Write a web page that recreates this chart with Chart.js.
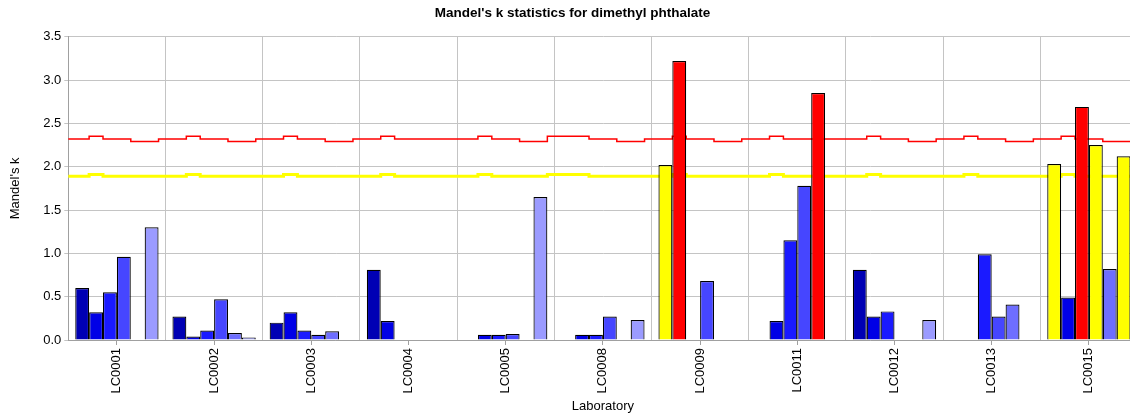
<!DOCTYPE html>
<html>
<head>
<meta charset="utf-8">
<script src="https://cdn.jsdelivr.net/npm/chart.js@4.4.1/dist/chart.umd.min.js"></script>
<style>
  html, body { margin: 0; padding: 0; background: #fff; overflow: hidden; }
  #wrap { width: 1145px; height: 414px; }
</style>
</head>
<body>
<div id="wrap"><canvas id="myChart"></canvas></div>
<script>
var labs = ['LC0001', 'LC0002', 'LC0003', 'LC0004', 'LC0005', 'LC0008', 'LC0009', 'LC0011', 'LC0012', 'LC0013', 'LC0015']

// Mandel's k per lab, one array per level (null = no result)
var level1 = [0.60, 0.27, 0.20, 0.81, null, null, 2.02, null, 0.81, null, 2.03]
var level2 = [0.32, 0.04, 0.32, 0.22, 0.06, 0.06, 3.22, 0.22, 0.27, null, 0.49]
var level3 = [0.55, 0.11, 0.11, null, 0.06, 0.06, null, 1.15, 0.33, 0.99, 2.69]
var level4 = [0.96, 0.47, 0.06, null, 0.07, 0.27, 0.68, 1.78, null, 0.27, 2.25]
var level5 = [null, 0.08, 0.10, null, null, null, null, 2.85, null, 0.41, 0.82]
var level6 = [1.30, 0.03, null, null, 1.65, 0.23, null, null, 0.23, null, 2.12]

// critical k values per lab (rows) and level (columns)
var kCrit1 = [
  [2.32, 2.35, 2.32, 2.32, 2.29, 2.29],
  [2.32, 2.35, 2.32, 2.32, 2.29, 2.29],
  [2.32, 2.35, 2.32, 2.32, 2.29, 2.29],
  [2.32, 2.35, 2.32, 2.32, 2.32, 2.32],
  [2.32, 2.35, 2.32, 2.32, 2.29, 2.29],
  [2.35, 2.35, 2.32, 2.32, 2.29, 2.29],
  [2.32, 2.35, 2.32, 2.32, 2.29, 2.29],
  [2.32, 2.35, 2.32, 2.32, 2.32, 2.32],
  [2.32, 2.35, 2.32, 2.32, 2.29, 2.29],
  [2.32, 2.35, 2.32, 2.32, 2.29, 2.29],
  [2.32, 2.35, 2.32, 2.32, 2.29, 2.29]
]
var kCrit5 = [
  [1.89, 1.91, 1.89, 1.89, 1.89, 1.89],
  [1.89, 1.91, 1.89, 1.89, 1.89, 1.89],
  [1.89, 1.91, 1.89, 1.89, 1.89, 1.89],
  [1.89, 1.91, 1.89, 1.89, 1.89, 1.89],
  [1.89, 1.91, 1.89, 1.89, 1.89, 1.89],
  [1.91, 1.91, 1.89, 1.89, 1.89, 1.89],
  [1.89, 1.91, 1.89, 1.89, 1.89, 1.89],
  [1.89, 1.91, 1.89, 1.89, 1.89, 1.89],
  [1.89, 1.91, 1.89, 1.89, 1.89, 1.89],
  [1.89, 1.91, 1.89, 1.89, 1.89, 1.89],
  [1.89, 1.91, 1.89, 1.89, 1.89, 1.89]
]

var levels = [level1, level2, level3, level4, level5, level6]
var levelColours = ['#0000b4', '#0000e6', '#1a1aff', '#4646ff', '#6e6eff', '#9b9bff']
var gridColour = '#c4c4c4'
var axisColour = '#a0a0a0'

var slots = levels.length + 1 // bars per lab plus one gap

// stepped line on the category scale: each level's limit spans its bar slot
function stepPoints(crit) {
  var pts = [{ x: -0.5, y: crit[0][0] }]
  crit.forEach(function(row, g) {
    row.forEach(function(v, j) {
      pts.push({ x: g - 0.5 + (j + 1.5) / slots, y: v })
    })
  })
  return pts
}

var datasets = levels.map(function(vals, lvl) {
  return {
    label: 'Level ' + (lvl + 1),
    data: vals,
    order: 1,
    borderColor: '#000',
    borderWidth: 1.2,
    backgroundColor: function(c) {
      var v = c.raw
      if (v > kCrit1[c.dataIndex][lvl]) return '#ff0000'
      if (v > kCrit5[c.dataIndex][lvl]) return '#ffff00'
      return levelColours[lvl]
    },
    categoryPercentage: levels.length / slots,
    barPercentage: 1
  }
})

datasets.push({
  type: 'line',
  label: '1% limit',
  data: stepPoints(kCrit1),
  parsing: false,
  order: 2,
  stepped: 'after',
  borderColor: '#ff0000',
  borderWidth: 1.5,
  pointRadius: 0
})
datasets.push({
  type: 'line',
  label: '5% limit',
  data: stepPoints(kCrit5),
  parsing: false,
  order: 3,
  stepped: 'after',
  borderColor: '#ffff00',
  borderWidth: 3,
  pointRadius: 0
})

Chart.defaults.font.family = 'Arial, "Liberation Sans", sans-serif'
Chart.defaults.font.size = 13
Chart.defaults.color = '#000'

var ctx = document.getElementById('myChart').getContext('2d')
var chart = new Chart(ctx, {
  type: 'bar',
  data: { labels: labs, datasets: datasets },
  options: {
    responsive: true,
    maintainAspectRatio: false,
    animation: false,
    layout: { padding: { left: 7.5, right: 7.5, top: 0, bottom: 0 } },
    plugins: {
      legend: { display: false },
      tooltip: { enabled: false },
      title: {
        display: true,
        text: "Mandel's k statistics for dimethyl phthalate",
        font: { size: 13.5, weight: 'bold' },
        padding: { top: 5, bottom: 15.5 }
      }
    },
    scales: {
      x: {
        type: 'category',
        position: 'bottom',
        offset: true,
        grid: { offset: false, drawOnChartArea: false, tickLength: 5, color: axisColour },
        border: { color: axisColour },
        ticks: { minRotation: 90, maxRotation: 90, padding: 3 },
        title: { display: true, text: 'Laboratory', padding: { top: 2, bottom: 0 } },
        afterFit: function(s) { s.height = 74 }
      },
      // lab boundaries only; no dataset uses this scale
      xl: {
        type: 'linear',
        position: 'bottom',
        offset: false,
        min: 0,
        max: labs.length,
        ticks: { display: false, stepSize: 1 },
        grid: { offset: false, drawTicks: false, color: gridColour },
        border: { display: false },
        afterFit: function(s) { s.height = 0 }
      },
      y: {
        min: 0,
        max: 3.5,
        ticks: { stepSize: 0.5, padding: 3, callback: function(v) { return v.toFixed(1) } },
        grid: { color: gridColour, tickLength: 4 },
        border: { color: axisColour },
        title: { display: true, text: "Mandel's k", padding: { top: 0, bottom: 2 } },
        afterFit: function(s) { s.width = 60.8 }
      }
    }
  }
})
</script>
</body>
</html>
